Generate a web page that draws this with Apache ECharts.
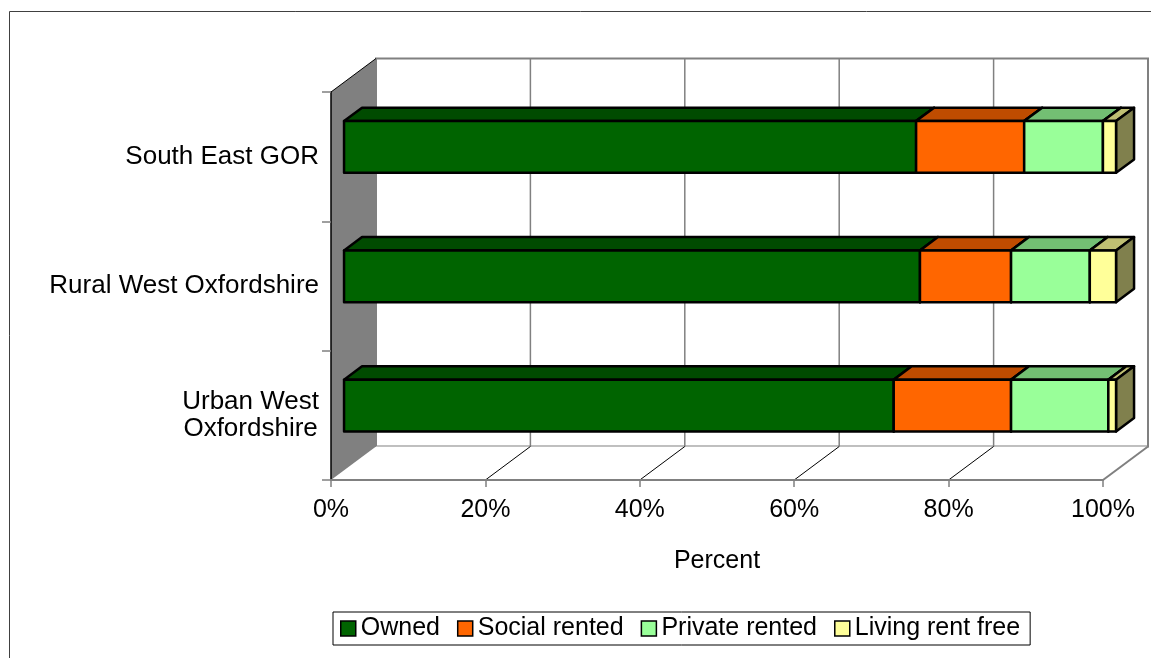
<!DOCTYPE html>
<html><head><meta charset="utf-8">
<script src="https://cdn.jsdelivr.net/npm/echarts@6/dist/echarts.min.js"></script>
<style>html,body{margin:0;padding:0;background:#fff}#c{width:1151px;height:658px}</style>
</head><body><div id="c"></div>
<script>
const categories = ['South East GOR', 'Rural West Oxfordshire', 'Urban West Oxfordshire'];
const seriesNames = ['Owned', 'Social rented', 'Private rented', 'Living rent free'];
const owned = [74.1, 74.6, 71.2];
const socialRented = [14.0, 11.8, 15.2];
const privateRented = [10.2, 10.2, 12.6];
const livingRentFree = [1.7, 3.4, 1.0];
const xTicks = [0, 20, 40, 60, 80, 100];
const tickLabels = ['0%', '20%', '40%', '60%', '80%', '100%'];

const FONT = "'Liberation Sans', Arial, sans-serif";
const DX = 45, DY = -33.5;          // depth of the 3D box
const F0 = 0.29, F1 = 0.69;         // bar front / back depth fractions
const stacks = [owned, socialRented, privateRented, livingRentFree];
const palette = [
  {front: '#006400', top: '#004b00', side: '#003200'},
  {front: '#ff6600', top: '#bf4c00', side: '#803300'},
  {front: '#99ff99', top: '#73bf73', side: '#4d804d'},
  {front: '#ffff99', top: '#bfbf73', side: '#80804d'}
];

function barSeries(idx) {
  const data = categories.map((c, ci) => {
    let start = 0;
    for (let k = 0; k < idx; k++) start += stacks[k][ci];
    return [start, start + stacks[idx][ci], ci];
  });
  const col = palette[idx];
  return {
    type: 'custom', name: seriesNames[idx], data: data, z: 5,
    encode: {x: [0, 1], y: 2},
    itemStyle: {color: col.front},
    renderItem: function (params, api) {
      const s = api.coord([api.value(0), api.value(2)]);
      const e = api.coord([api.value(1), api.value(2)]);
      const band = api.size([0, 1])[1];
      const h = band * 0.40;
      const fx = DX * F0, fy = DY * F0;
      const bx = DX * (F1 - F0), by = DY * (F1 - F0);
      const x0 = s[0] + fx, x1 = e[0] + fx;
      const yt = s[1] + fy - h / 2, yb = s[1] + fy + h / 2;
      const st = {stroke: '#000', lineWidth: 2.5, lineJoin: 'round'};
      return {type: 'group', children: [
        {type: 'polygon', shape: {points: [[x0, yt], [x1, yt], [x1 + bx, yt + by], [x0 + bx, yt + by]]},
         style: Object.assign({}, st, {fill: col.top})},
        {type: 'polygon', shape: {points: [[x1, yt], [x1, yb], [x1 + bx, yb + by], [x1 + bx, yt + by]]},
         style: Object.assign({}, st, {fill: col.side})},
        {type: 'rect', shape: {x: x0, y: yt, width: x1 - x0, height: yb - yt},
         style: Object.assign({}, st, {fill: col.front})}
      ]};
    }
  };
}

const wallsSeries = {
  type: 'custom', name: 'walls', silent: true, z: 1,
  data: [[xTicks[0], 0]], encode: {x: 0, y: 1},
  renderItem: function (params, api) {
    const cs = params.coordSys;
    const x0 = api.coord([xTicks[0], 0])[0];
    const x1 = api.coord([xTicks[xTicks.length - 1], 0])[0];
    const y0 = cs.y, y1 = cs.y + cs.height;
    return {type: 'group', children: [
      {type: 'rect', shape: {x: x0 + DX, y: y0 + DY, width: x1 - x0, height: y1 - y0},
       style: {fill: '#fff', stroke: '#808080', lineWidth: 2}},
      {type: 'polygon', shape: {points: [[x0, y1], [x1, y1], [x1 + DX, y1 + DY], [x0 + DX, y1 + DY]]},
       style: {fill: '#fff', stroke: null}},
      {type: 'line', shape: {x1: x1, y1: y1, x2: x1 + DX, y2: y1 + DY},
       style: {stroke: '#808080', lineWidth: 2}},
      {type: 'polygon', shape: {points: [[x0, y0], [x0 + DX, y0 + DY], [x0 + DX, y1 + DY], [x0, y1]]},
       style: {fill: '#808080', stroke: null}},
      {type: 'line', shape: {x1: x0, y1: y0, x2: x0 + DX, y2: y0 + DY},
       style: {stroke: '#000', lineWidth: 1}}
    ]};
  }
};

const gridSeries = {
  type: 'custom', name: 'grid', silent: true, z: 2,
  data: xTicks.slice(1, -1).map(v => [v, 0]), encode: {x: 0, y: 1},
  renderItem: function (params, api) {
    const cs = params.coordSys;
    const x = api.coord([api.value(0), 0])[0];
    const y0 = cs.y, y1 = cs.y + cs.height;
    return {type: 'group', children: [
      {type: 'line', shape: {x1: x + DX, y1: y0 + DY, x2: x + DX, y2: y1 + DY},
       style: {stroke: '#808080', lineWidth: 1.5}},
      {type: 'line', shape: {x1: x, y1: y1, x2: x + DX, y2: y1 + DY},
       style: {stroke: '#000', lineWidth: 1}}
    ]};
  }
};

const chart = echarts.init(document.getElementById('c'), null, {renderer: 'canvas'});
chart.setOption({
  animation: false,
  backgroundColor: '#fff',
  textStyle: {fontFamily: FONT},
  graphic: [{type: 'rect', silent: true, z: -10,
    shape: {x: 9.5, y: 11.5, width: 1300, height: 800},
    style: {fill: 'none', stroke: '#404040', lineWidth: 1}}],
  grid: {left: 331, right: 48, top: 92, bottom: 178, containLabel: false},
  xAxis: {
    type: 'value', min: 0, max: 100, interval: 20, z: 6,
    name: 'Percent', nameLocation: 'middle', nameGap: 69,
    nameTextStyle: {fontSize: 25, color: '#000', fontFamily: FONT},
    axisLine: {show: true, lineStyle: {color: '#808080', width: 2}},
    axisTick: {show: true, length: 7, lineStyle: {color: '#808080', width: 1.5}},
    splitLine: {show: false},
    axisLabel: {fontSize: 25, color: '#000', fontFamily: FONT, margin: 18,
      formatter: function (v) { const i = xTicks.indexOf(v); return i >= 0 ? tickLabels[i] : ''; }}
  },
  yAxis: {
    type: 'category', inverse: true, data: categories, z: 6,
    axisLine: {show: true, lineStyle: {color: '#000', width: 1.5}},
    axisTick: {show: true, length: 9, lineStyle: {color: '#808080', width: 1.5}},
    splitLine: {show: false},
    axisLabel: {fontSize: 26, color: '#000', fontFamily: FONT, margin: 12,
      formatter: function (v) {
        if (v === 'Urban West Oxfordshire') return '{c|Urban West}\n{c|Oxfordshire}';
        return v;
      },
      rich: {c: {align: 'center', fontSize: 26, lineHeight: 27, color: '#000', fontFamily: FONT}}
    }
  },
  legend: {
    data: seriesNames, left: 333, top: 612, orient: 'horizontal',
    icon: 'rect', itemWidth: 15, itemHeight: 15, itemGap: 17,
    padding: [4, 10, 4, 7], borderColor: '#000', borderWidth: 1, backgroundColor: '#fff',
    itemStyle: {borderColor: '#000', borderWidth: 1.5},
    textStyle: {fontSize: 25, color: '#000', fontFamily: FONT}
  },
  series: [wallsSeries, gridSeries, barSeries(0), barSeries(1), barSeries(2), barSeries(3)]
});
</script></body></html>
